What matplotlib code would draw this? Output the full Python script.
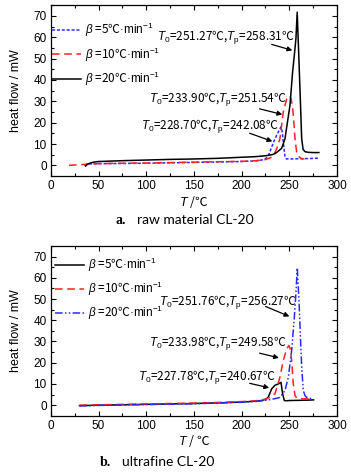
import matplotlib
matplotlib.use("Agg")
import matplotlib.pyplot as plt
from matplotlib.ticker import MultipleLocator

plt.rcParams['font.family'] = ['Liberation Sans', 'DejaVu Sans']
plt.rcParams['mathtext.fontset'] = 'custom'
plt.rcParams['mathtext.rm'] = 'Liberation Sans'
plt.rcParams['mathtext.it'] = 'Liberation Sans:italic'
plt.rcParams['mathtext.fallback'] = 'stixsans'

CJK = 'Noto Sans CJK SC'

# ---------------- data: (a) raw material CL-20 ----------------
T_a5 = [35.5, 37, 40, 50, 75, 100, 125, 150, 175, 200, 215, 222, 226, 228, 231, 235,
        238.5, 241.3, 242.5, 243.7, 245.5, 247, 250, 260, 270, 281]
Q_a5 = [-0.3, 0.4, 0.7, 0.8, 0.9, 1.0, 1.2, 1.4, 1.6, 1.8, 2.1, 2.6, 3.4, 4.4, 8.0, 12.5,
        15.6, 18.0, 16.0, 11.0, 3.9, 3.0, 3.0, 3.1, 3.2, 3.4]

T_a10 = [19, 30, 50, 75, 100, 125, 150, 175, 200, 215, 225, 230, 234, 237, 240.2, 243.7,
         247.2, 250.5, 252, 253.5, 254.5, 256, 257.7, 259, 261.2, 263, 266]
Q_a10 = [0.0, 0.3, 0.8, 1.0, 1.1, 1.3, 1.5, 1.7, 1.9, 2.2, 2.7, 3.5, 5.0, 8.0, 12.5, 25.0,
         31.0, 32.5, 31.0, 27.0, 22.0, 12.5, 6.3, 4.5, 3.6, 3.1, 3.0]

T_a20 = [36.5, 38, 42, 46, 50, 75, 100, 125, 150, 175, 200, 215, 225, 232, 235, 238, 242,
         245.5, 248, 250.7, 253.5, 255.3, 257, 258.3, 259.5, 261.5, 263, 264.5, 266.5, 270,
         275, 281]
Q_a20 = [-0.3, 0.5, 1.2, 1.6, 1.8, 2.2, 2.5, 2.8, 3.0, 3.3, 3.8, 4.1, 4.5, 5.0, 5.5, 6.5, 8.0,
         12.5, 20.0, 28.0, 43.8, 51.6, 59.5, 71.7, 57.0, 32.0, 12.5, 7.5, 6.4, 6.1, 6.0, 6.0]

labels_a = [r'$\beta$ =5℃$\mathrm{·min}^{-1}$', r'$\beta$ =10℃$\mathrm{·min}^{-1}$',
            r'$\beta$ =20℃$\mathrm{·min}^{-1}$']
notes_a = [r'$T_{\rm 0}$=251.27℃,$T_{\rm p}$=258.31℃',
           r'$T_{\rm 0}$=233.90℃,$T_{\rm p}$=251.54℃',
           r'$T_{\rm 0}$=228.70℃,$T_{\rm p}$=242.08℃']

# ---------------- data: (b) ultrafine CL-20 ----------------
T_b5 = [30, 50, 75, 100, 125, 150, 175, 200, 215, 222, 226, 228, 231.5, 235, 238.5, 241.3,
        243, 244.8, 247, 250, 260, 270, 275.5]
Q_b5 = [-0.2, 0.0, 0.2, 0.4, 0.6, 0.8, 1.1, 1.5, 1.9, 2.3, 3.0, 3.8, 7.7, 9.4, 10.0, 10.8,
        5.4, 2.2, 2.1, 2.2, 2.3, 2.4, 2.5]

T_b10 = [30, 50, 75, 100, 125, 150, 175, 200, 215, 225, 230, 235, 240.2, 243.7, 247.2, 249.6,
         251, 252.5, 254.2, 256, 258, 260, 265, 270, 275]
Q_b10 = [0.0, 0.2, 0.4, 0.6, 0.8, 1.0, 1.3, 1.7, 2.1, 2.8, 3.8, 5.4, 13.2, 21.0, 26.5, 28.1,
         26.5, 21.0, 10.0, 4.6, 3.3, 3.0, 3.0, 3.1, 3.0]

T_b20 = [30, 50, 75, 100, 125, 150, 175, 200, 215, 225, 232, 236, 240.2, 245.5, 249, 252.5,
         255.3, 257, 258.4, 260.2, 263, 264.7, 266.5, 268.2, 271, 275]
Q_b20 = [-0.3, -0.1, 0.1, 0.3, 0.5, 0.7, 1.0, 1.4, 1.8, 2.3, 2.8, 3.2, 3.7, 6.9, 13.2, 25.8,
         41.4, 53.0, 64.7, 49.0, 17.9, 6.9, 4.5, 3.7, 3.3, 3.0]

labels_b = [r'$\beta$ =5℃$\mathrm{·min}^{-1}$', r'$\beta$ =10℃$\mathrm{·min}^{-1}$',
            r'$\beta$ =20℃$\mathrm{·min}^{-1}$']
notes_b = [r'$T_{\rm 0}$=251.76℃,$T_{\rm p}$=256.27℃',
           r'$T_{\rm 0}$=233.98℃,$T_{\rm p}$=249.58℃',
           r'$T_{\rm 0}$=227.78℃,$T_{\rm p}$=240.67℃']

BLUE = '#2a2aff'
RED = '#ff2020'
DOT = (0, (2, 1.2))
DASH = (0, (5, 3))
DASHDOTDOT = (0, (5, 1.5, 1, 1.5, 1, 1.5))

fig = plt.figure(figsize=(3.51, 4.72), dpi=100)
ax1 = fig.add_axes([0.145, 0.627, 0.815, 0.362])
ax2 = fig.add_axes([0.145, 0.119, 0.815, 0.360])


def style(ax):
    ax.set_xlim(0, 300)
    ax.set_ylim(-5, 75)
    ax.xaxis.set_major_locator(MultipleLocator(50))
    ax.xaxis.set_minor_locator(MultipleLocator(25))
    ax.yaxis.set_major_locator(MultipleLocator(10))
    ax.yaxis.set_minor_locator(MultipleLocator(5))
    ax.tick_params(which='both', direction='in', top=True, right=True, labelsize=8.5, pad=3)
    ax.tick_params(which='major', length=3.5, width=0.8)
    ax.tick_params(which='minor', length=2, width=0.8)
    for s in ax.spines.values():
        s.set_linewidth(0.9)
    ax.set_ylabel('heat flow / mW', fontsize=9, labelpad=8)


leg_kw = dict(loc='upper left', frameon=False, prop={'family': CJK, 'size': 8.5},
              handlelength=2.4, handletextpad=0.4, labelspacing=0.52, borderpad=0,
              borderaxespad=0)

# ---- panel a ----
l1, = ax1.plot(T_a5, Q_a5, color=BLUE, ls=DOT, lw=1.1)
l2, = ax1.plot(T_a10, Q_a10, color=RED, ls=DASH, lw=1.1)
l3, = ax1.plot(T_a20, Q_a20, color='black', ls='-', lw=1.1)
style(ax1)
ax1.set_xlabel(r'$T$ /℃', fontsize=9, labelpad=1, family=CJK)
ax1.legend([l1, l2, l3], labels_a, bbox_to_anchor=(0.005, 0.907), **leg_kw)

note_pos_a = [(183.6, 59.6), (174.7, 30.5), (166.8, 17.8)]
arrow_a = [((228.7, 57.0), (256.0, 53.5)), ((216.0, 26.8), (245.5, 23.5)),
           ((205.6, 15.5), (235.0, 10.8))]
for txt, (x, y), (tail, head) in zip(notes_a, note_pos_a, arrow_a):
    ax1.text(x, y, txt, fontsize=8.5, ha='center', va='center', family=CJK)
    ax1.annotate('', xy=head, xytext=tail,
                 arrowprops=dict(arrowstyle='-|>', color='black', lw=0.9, mutation_scale=7))

# ---- panel b ----
m1, = ax2.plot(T_b5, Q_b5, color='black', ls='-', lw=1.1)
m2, = ax2.plot(T_b10, Q_b10, color=RED, ls=DASH, lw=1.1)
m3, = ax2.plot(T_b20, Q_b20, color=BLUE, ls=DASHDOTDOT, lw=1.1)
style(ax2)
ax2.set_xlabel(r'$T$ / ℃', fontsize=9, labelpad=1, family=CJK)
ax2.legend([m1, m2, m3], labels_b, bbox_to_anchor=(0.015, 0.943), **leg_kw)

note_pos_b = [(185.7, 48.3), (174.7, 29.0), (163.6, 13.0)]
arrow_b = [((222.4, 47.0), (252.8, 41.3)), ((216.0, 24.8), (242.0, 22.0)),
           ((205.6, 10.6), (231.8, 7.9))]
for txt, (x, y), (tail, head) in zip(notes_b, note_pos_b, arrow_b):
    ax2.text(x, y, txt, fontsize=8.5, ha='center', va='center', family=CJK)
    ax2.annotate('', xy=head, xytext=tail,
                 arrowprops=dict(arrowstyle='-|>', color='black', lw=0.9, mutation_scale=7))

# ---- captions ----
fig.text(115 / 351, 1 - 220 / 472, 'a.', fontsize=10, fontweight='bold',
         family='Liberation Serif', va='center', ha='left')
fig.text(137 / 351, 1 - 220 / 472, 'raw material CL-20', fontsize=10,
         family='Lato', va='center', ha='left')
fig.text(100 / 351, 1 - 462 / 472, 'b.', fontsize=10, fontweight='bold',
         family='Liberation Serif', va='center', ha='left')
fig.text(122 / 351, 1 - 462 / 472, 'ultrafine CL-20', fontsize=10,
         family='Lato', va='center', ha='left')

fig.savefig('out.png', dpi=100)
